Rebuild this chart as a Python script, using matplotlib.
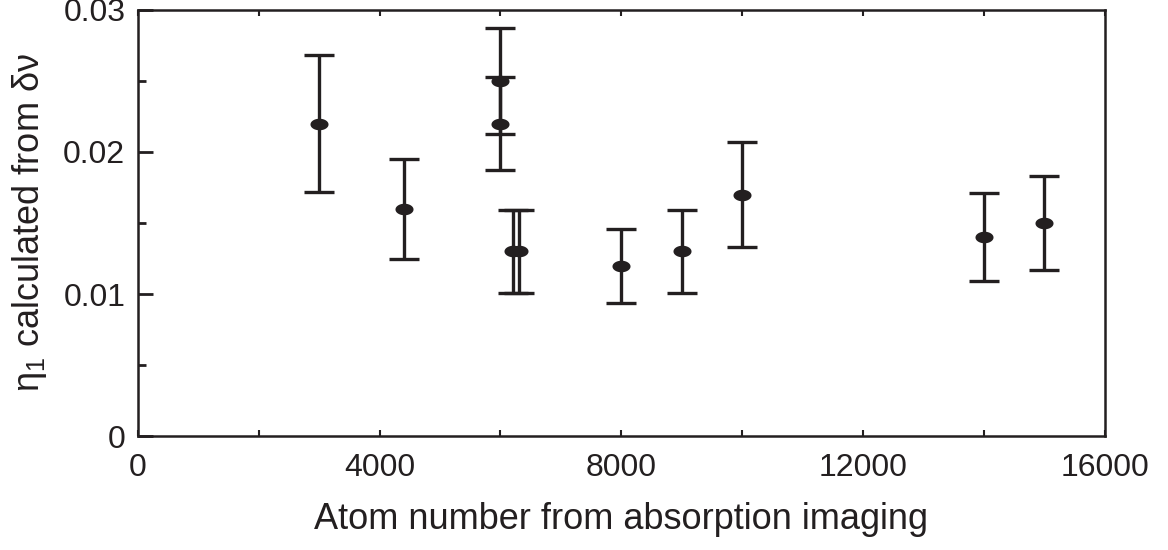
import numpy as np
import matplotlib
matplotlib.use('Agg')
import matplotlib.pyplot as plt
from matplotlib.path import Path
from matplotlib.ticker import MultipleLocator

plt.rcParams['font.family'] = ['Liberation Sans', 'DejaVu Sans']
plt.rcParams['mathtext.fontset'] = 'custom'
plt.rcParams['mathtext.rm'] = 'Liberation Sans'
plt.rcParams['mathtext.it'] = 'Liberation Sans'

# atom number, eta_1 and its error
atoms = [3000, 4400, 6000, 6000, 6200, 6300, 8000, 9000, 10000, 14000, 15000]
eta = [0.022, 0.016, 0.025, 0.022, 0.013, 0.013, 0.012, 0.013, 0.017, 0.014, 0.015]
err = [0.0048, 0.0035, 0.0037, 0.0033, 0.0029, 0.0029, 0.0026, 0.0029, 0.0037, 0.0031, 0.0033]

col = '#231f20'

# flattened ellipse marker
t = np.linspace(0, 2 * np.pi, 60)
ell = Path(np.column_stack([np.cos(t), 0.64 * np.sin(t)]), closed=True)

fig = plt.figure(figsize=(11.68, 5.5), dpi=100)
ax = fig.add_axes([0.118, 0.207, 0.828, 0.775])

ax.errorbar(atoms, eta, yerr=err, fmt='none', ecolor=col, elinewidth=2.4,
            capsize=10.8, capthick=2.4)
ax.plot(atoms, eta, linestyle='none', marker=ell, markersize=13,
        color=col, markeredgewidth=0)

ax.set_xlim(0, 16000)
ax.set_ylim(0, 0.03)
ax.xaxis.set_major_locator(MultipleLocator(4000))
ax.xaxis.set_minor_locator(MultipleLocator(2000))
ax.yaxis.set_minor_locator(MultipleLocator(0.005))
ax.set_yticks([0, 0.01, 0.02, 0.03])
ax.set_yticklabels(['0', '0.01', '0.02', '0.03'])

ax.tick_params(axis='y', which='major', direction='in', length=11, width=2,
               labelsize=23, pad=9, colors=col)
ax.tick_params(axis='y', which='minor', direction='in', length=6, width=2,
               colors=col)
ax.tick_params(axis='x', which='both', direction='in', length=4, width=1.5,
               labelsize=23, pad=12, colors=col, top=True)

for s in ax.spines.values():
    s.set_linewidth(1.8)
    s.set_color(col)

ax.set_xlabel('Atom number from absorption imaging', fontsize=26, labelpad=14,
              color=col)
ax.set_ylabel(r'$\eta_1$ calculated from $\delta\nu$', fontsize=26,
              labelpad=10, color=col)

fig.savefig('out.png', dpi=100)
